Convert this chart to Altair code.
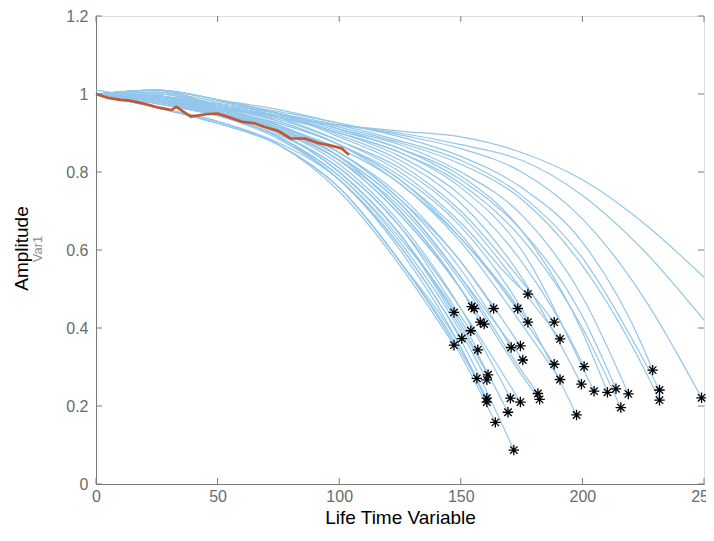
import altair as alt
import pandas as pd

# ---------------- data ----------------
GRID_X = [0, 25, 50, 75, 100, 125, 150, 175, 200, 225, 250]

# y of each run at GRID_X positions (only those before the run's end)
CURVE_Y = [
    [1.00, 0.980, 0.950, 0.900, 0.800, 0.640],
    [1.00, 0.965, 0.925, 0.870, 0.750, 0.560],
    [1.00, 0.980, 0.945, 0.890, 0.780, 0.610],
    [1.01, 0.985, 0.955, 0.900, 0.810, 0.660, 0.430],
    [1.00, 0.995, 0.960, 0.920, 0.840, 0.700, 0.500],
    [1.00, 0.980, 0.950, 0.910, 0.830, 0.690, 0.500],
    [1.00, 0.965, 0.925, 0.870, 0.760, 0.570, 0.350],
    [1.00, 0.980, 0.950, 0.890, 0.790, 0.630, 0.420],
    [1.00, 0.990, 0.960, 0.920, 0.840, 0.700, 0.500],
    [1.00, 0.980, 0.955, 0.910, 0.830, 0.690, 0.500],
    [1.00, 0.975, 0.945, 0.890, 0.790, 0.620, 0.390],
    [1.00, 0.965, 0.930, 0.870, 0.760, 0.570, 0.340],
    [1.00, 0.980, 0.945, 0.885, 0.780, 0.600, 0.350],
    [1.00, 0.985, 0.950, 0.900, 0.800, 0.640, 0.400],
    [1.00, 1.000, 0.965, 0.920, 0.850, 0.730, 0.570],
    [1.00, 0.965, 0.925, 0.870, 0.760, 0.570, 0.330],
    [1.00, 0.980, 0.950, 0.900, 0.800, 0.640, 0.410],
    [1.00, 0.990, 0.955, 0.905, 0.820, 0.670, 0.450],
    [1.00, 0.995, 0.960, 0.920, 0.850, 0.730, 0.550],
    [1.00, 0.965, 0.930, 0.875, 0.780, 0.610, 0.370],
    [1.00, 1.005, 0.970, 0.930, 0.870, 0.770, 0.630],
    [1.00, 0.985, 0.960, 0.920, 0.850, 0.740, 0.570],
    [1.00, 0.975, 0.945, 0.895, 0.810, 0.660, 0.450],
    [1.00, 0.990, 0.960, 0.915, 0.840, 0.720, 0.530],
    [1.00, 1.010, 0.985, 0.940, 0.880, 0.800, 0.670, 0.500],
    [1.00, 0.995, 0.965, 0.930, 0.870, 0.780, 0.630, 0.440],
    [1.00, 0.985, 0.955, 0.910, 0.840, 0.720, 0.530, 0.290],
    [1.00, 0.975, 0.945, 0.905, 0.830, 0.710, 0.520, 0.280],
    [1.00, 1.010, 0.985, 0.950, 0.890, 0.820, 0.700, 0.520],
    [1.00, 0.985, 0.960, 0.925, 0.870, 0.780, 0.640, 0.430],
    [1.00, 0.995, 0.965, 0.935, 0.880, 0.810, 0.690, 0.500],
    [1.00, 0.980, 0.955, 0.915, 0.860, 0.770, 0.620, 0.410],
    [1.00, 0.985, 0.960, 0.925, 0.870, 0.790, 0.660, 0.450],
    [1.00, 1.010, 0.985, 0.950, 0.895, 0.830, 0.720, 0.530],
    [1.00, 0.990, 0.970, 0.940, 0.900, 0.840, 0.740, 0.570, 0.310],
    [1.00, 0.995, 0.970, 0.940, 0.900, 0.850, 0.760, 0.600, 0.300],
    [1.00, 1.000, 0.975, 0.950, 0.910, 0.860, 0.790, 0.650, 0.390],
    [1.00, 0.990, 0.970, 0.945, 0.905, 0.860, 0.780, 0.650, 0.430],
    [1.00, 0.985, 0.965, 0.940, 0.900, 0.850, 0.770, 0.630, 0.400],
    [1.00, 1.000, 0.975, 0.950, 0.910, 0.870, 0.800, 0.690, 0.480],
    [1.00, 1.010, 0.985, 0.960, 0.925, 0.890, 0.840, 0.760, 0.620, 0.350],
    [1.00, 0.995, 0.975, 0.950, 0.920, 0.880, 0.830, 0.740, 0.580, 0.320],
    [1.00, 0.990, 0.975, 0.950, 0.915, 0.875, 0.820, 0.730, 0.560, 0.300],
    [1.00, 1.005, 0.980, 0.955, 0.925, 0.895, 0.860, 0.800, 0.680, 0.480],
]
# failure points (black asterisks)
END_X = [147.2, 147.2, 150.4, 154.1, 154.5, 155.5, 156.6, 157.0, 158.0, 159.6,
         160.7, 160.7, 160.7, 161.2, 163.5, 164.2, 169.4, 170.4, 170.7, 171.8,
         173.4, 174.5, 174.5, 175.5, 177.6, 177.6, 181.7, 182.4, 188.4, 188.4,
         190.8, 190.8, 197.6, 199.6, 200.7, 204.8, 210.3, 213.8, 215.8, 218.9,
         228.9, 231.7, 231.7, 249.0]
END_Y = [0.440, 0.356, 0.373, 0.393, 0.455, 0.450, 0.271, 0.344, 0.415, 0.410,
         0.267, 0.220, 0.210, 0.280, 0.450, 0.158, 0.184, 0.220, 0.350, 0.087,
         0.450, 0.354, 0.210, 0.318, 0.487, 0.415, 0.232, 0.217, 0.415, 0.307,
         0.372, 0.268, 0.177, 0.256, 0.301, 0.238, 0.235, 0.244, 0.196, 0.231,
         0.292, 0.241, 0.215, 0.221]
# runs still alive at the right edge of the axes
CONT_Y = [
    [1.00, 1.010, 0.970, 0.940, 0.920, 0.905, 0.890, 0.850, 0.780, 0.670, 0.530],
    [1.00, 0.995, 0.970, 0.945, 0.920, 0.900, 0.870, 0.830, 0.740, 0.600, 0.420],
]
# the highlighted (red) run
RED_X = [0, 5, 10, 14, 20, 26, 31, 33, 39, 45, 50, 55, 60, 65, 69, 75, 80, 86, 91, 97, 101, 104]
RED_Y = [1.000, 0.990, 0.985, 0.983, 0.975, 0.965, 0.959, 0.967, 0.942, 0.948, 0.950,
         0.940, 0.929, 0.925, 0.916, 0.905, 0.886, 0.886, 0.875, 0.867, 0.861, 0.844]

X_TICKS = [0, 50, 100, 150, 200, 250]
Y_TICKS = [0, 0.2, 0.4, 0.6, 0.8, 1.0, 1.2]

# ---------------- tables ----------------
rows = []
for i, ys in enumerate(CURVE_Y):
    for gx, gy in zip(GRID_X, ys):
        if gx < END_X[i]:
            rows.append({"id": i, "x": gx, "y": gy})
    rows.append({"id": i, "x": END_X[i], "y": END_Y[i]})
for j, ys in enumerate(CONT_Y):
    for gx, gy in zip(GRID_X, ys):
        rows.append({"id": 100 + j, "x": gx, "y": gy})
curves = pd.DataFrame(rows)
ends = pd.DataFrame({"x": END_X, "y": END_Y})
red = pd.DataFrame({"x": RED_X, "y": RED_Y})
xt = pd.DataFrame({"t": X_TICKS})
yt = pd.DataFrame({"t": Y_TICKS})

W, H = 608, 468
FONT = "Liberation Sans"
AX = "#7a7a7a"

xscale = alt.Scale(domain=[0, 250], nice=False, zero=False)
yscale = alt.Scale(domain=[0, 1.2], nice=False, zero=False)

xaxis = alt.Axis(values=X_TICKS, format="d", title="Life Time Variable", ticks=False,
                 grid=False, labelFont=FONT, labelFontSize=16, labelColor="#6b6b6b",
                 labelPadding=4, labelFlush=False, labelOverlap=False,
                 titleFont=FONT, titleFontSize=19, titleFontWeight="normal",
                 titleColor="black", titlePadding=4, domainColor=AX)
yaxis = alt.Axis(values=Y_TICKS, format="~g", title="Amplitude", ticks=False,
                 grid=False, labelFont=FONT, labelFontSize=16, labelColor="#6b6b6b",
                 labelPadding=8, labelFlush=False, labelOverlap=False,
                 titleFont=FONT, titleFontSize=19, titleFontWeight="normal",
                 titleColor="black", titleX=-75, titleY=232, titleAngle=270,
                 titleAlign="center", titleBaseline="middle", domainColor=AX)

X = alt.X("x:Q", scale=xscale, axis=xaxis)
Y = alt.Y("y:Q", scale=yscale, axis=yaxis)

lines = alt.Chart(curves).mark_line(color="#93c6ea", strokeWidth=1.2,
                                    interpolate="monotone").encode(
    x=X, y=Y, detail="id:N", order="x:Q")
redline = alt.Chart(red).mark_line(color="#c4552c", strokeWidth=2.6).encode(
    x=X, y=Y, order="x:Q")
STAR = "M0,-1L0,1M-1,0L1,0M-0.71,-0.71L0.71,0.71M-0.71,0.71L0.71,-0.71"
stars = alt.Chart(ends).mark_point(shape=STAR, filled=False, stroke="black",
                                   strokeWidth=1.3, size=110, opacity=1).encode(x=X, y=Y)

TS = 6
tb = alt.Chart(xt).mark_rule(color=AX).encode(
    x=alt.X("t:Q", scale=xscale), y=alt.value(H), y2=alt.value(H - TS))
tt = alt.Chart(xt).mark_rule(color=AX).encode(
    x=alt.X("t:Q", scale=xscale), y=alt.value(0), y2=alt.value(TS))
tl = alt.Chart(yt).mark_rule(color=AX).encode(
    y=alt.Y("t:Q", scale=yscale), x=alt.value(0), x2=alt.value(TS))
tr = alt.Chart(yt).mark_rule(color=AX).encode(
    y=alt.Y("t:Q", scale=yscale), x=alt.value(W), x2=alt.value(W - TS))

var1 = alt.Chart(pd.DataFrame({"t": ["Var1"]})).mark_text(
    angle=270, font=FONT, fontSize=13, color="#8c8c8c", baseline="middle",
    align="center").encode(x=alt.value(-58), y=alt.value(233), text="t:N")

chart = alt.layer(lines, redline, stars, tb, tt, tl, tr, var1).properties(
    width=W, height=H,
    autosize=alt.AutoSizeParams(type="none"),
    padding={"left": 88, "top": 8, "right": 2, "bottom": 49},
).configure_view(stroke=AX, strokeWidth=1).configure(background="white")

chart.save("out.html", embed_options={"renderer": "svg", "actions": False})
